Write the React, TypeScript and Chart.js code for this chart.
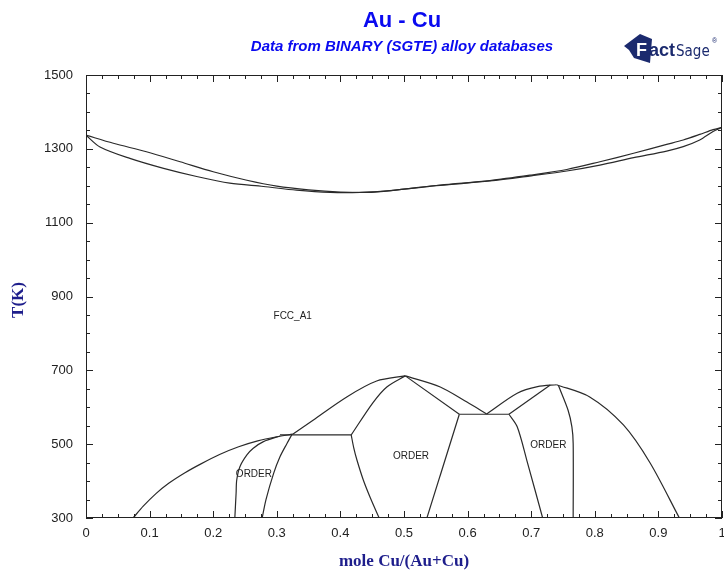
import React, { useEffect, useRef } from 'react';
import { Chart, registerables } from 'chart.js';

Chart.register(...registerables);

// ---- axis ticks ----
const xTickValues = [0, 0.1, 0.2, 0.3, 0.4, 0.5, 0.6, 0.7, 0.8, 0.9, 1];
const xTickLabels = ['0', '0.1', '0.2', '0.3', '0.4', '0.5', '0.6', '0.7', '0.8', '0.9', '1'];
const yTickValues = [300, 500, 700, 900, 1100, 1300, 1500];
const yTickLabels = ['300', '500', '700', '900', '1100', '1300', '1500'];
const xMinorStep = 0.025;
const yMinorStep = 50;

// ---- liquidus / solidus ----
const liquidusX = [0, 0.043, 0.095, 0.148, 0.2, 0.253, 0.3, 0.35, 0.4, 0.44, 0.48, 0.557, 0.635, 0.7, 0.756, 0.808, 0.861, 0.913, 0.939, 0.965, 0.986, 1];
const liquidusT = [1337, 1315, 1292, 1265, 1238, 1215, 1199, 1189, 1183, 1182, 1187, 1202, 1214, 1229, 1244, 1265, 1288, 1312, 1324, 1339, 1352, 1358];
const solidusX = [0, 0.022, 0.069, 0.122, 0.174, 0.226, 0.279, 0.331, 0.384, 0.431, 0.478, 0.557, 0.635, 0.7, 0.756, 0.808, 0.861, 0.913, 0.939, 0.965, 0.986, 1];
const solidusT = [1337, 1305, 1274, 1247, 1225, 1207, 1198, 1188, 1182, 1182, 1187, 1201, 1213, 1227, 1240, 1256, 1276, 1294, 1306, 1324, 1347, 1358];

// ---- order/disorder envelope ----
const dome1X = [0.074, 0.09, 0.11, 0.13, 0.155, 0.18, 0.21, 0.24, 0.27, 0.3, 0.325];
const dome1T = [300, 332, 366, 394, 422, 446, 472, 493, 509, 520, 527];
const arc1X = [0.325, 0.357, 0.41, 0.457, 0.502];
const arc1T = [527, 565, 628, 671, 685];
const arc2X = [0.502, 0.557, 0.599, 0.63];
const arc2T = [685, 655, 614, 582];
const arc3X = [0.63, 0.678, 0.71, 0.74];
const arc3T = [582, 638, 656, 661];
const arc4X = [0.74, 0.792, 0.845, 0.887, 0.933];
const arc4T = [661, 628, 552, 449, 300];

// ---- inner phase boundaries ----
const line2X = [0.234, 0.236, 0.237, 0.242, 0.253, 0.263, 0.279, 0.305];
const line2T = [300, 367, 403, 439, 471, 489, 507, 522];
const line3X = [0.277, 0.283, 0.295, 0.305, 0.316, 0.324];
const line3T = [300, 350, 421, 466, 502, 527];
const plateau1X = [0.305, 0.417];
const plateau1T = [525, 525];
const line5X = [0.417, 0.421, 0.426, 0.436, 0.447, 0.461];
const line5T = [525, 490, 457, 403, 355, 300];
const line6X = [0.417, 0.451, 0.473, 0.502];
const line6T = [525, 612, 655, 685];
const line7X = [0.502, 0.587];
const line7T = [685, 581];
const plateau2X = [0.587, 0.665];
const plateau2T = [581, 581];
const line8X = [0.587, 0.536];
const line8T = [581, 300];
const line9X = [0.665, 0.678, 0.693, 0.718];
const line9T = [581, 547, 457, 300];
const line10X = [0.665, 0.73];
const line10T = [581, 660];
const line11X = [0.743, 0.758, 0.764, 0.766, 0.766];
const line11T = [658, 592, 547, 502, 300];

// ---- region labels ----
const regionLabels = ['FCC_A1', 'ORDER', 'ORDER', 'ORDER'];
const regionX = [0.325, 0.264, 0.511, 0.727];
const regionT = [847, 419, 466, 498];

const curves: [number[], number[], number][] = [
  [liquidusX, liquidusT, 0.3],
  [solidusX, solidusT, 0.3],
  [dome1X, dome1T, 0.3],
  [arc1X, arc1T, 0.3],
  [arc2X, arc2T, 0.3],
  [arc3X, arc3T, 0.3],
  [arc4X, arc4T, 0.3],
  [line2X, line2T, 0.3],
  [line3X, line3T, 0.3],
  [plateau1X, plateau1T, 0],
  [line5X, line5T, 0.3],
  [line6X, line6T, 0.3],
  [line7X, line7T, 0],
  [plateau2X, plateau2T, 0],
  [line8X, line8T, 0],
  [line9X, line9T, 0.3],
  [line10X, line10T, 0],
  [line11X, line11T, 0.3],
];

const SANS = 'Arial, "Liberation Sans", sans-serif';
const SERIF = '"Times New Roman", "Liberation Serif", serif';

const framePlugin = {
  id: 'frame',
  afterDatasetsDraw(chart: any) {
    const { ctx, chartArea, scales } = chart;
    const { left, right, top, bottom } = chartArea;
    const xs = scales.x;
    const ys = scales.y;
    ctx.save();
    ctx.strokeStyle = '#222';
    ctx.lineWidth = 1;
    ctx.strokeRect(Math.round(left) + 0.5, Math.round(top) + 0.5, Math.round(right - left) - 1, Math.round(bottom - top) - 1);
    ctx.beginPath();
    const isMajorX = (v: number) => xTickValues.some((t) => Math.abs(t - v) < 1e-6);
    const isMajorY = (v: number) => yTickValues.some((t) => Math.abs(t - v) < 1e-6);
    for (let v = 0; v <= 1 + 1e-9; v += xMinorStep) {
      const px = Math.round(xs.getPixelForValue(v)) + 0.5;
      const len = isMajorX(v) ? 7 : 4;
      ctx.moveTo(px, bottom);
      ctx.lineTo(px, bottom - len);
      ctx.moveTo(px, top);
      ctx.lineTo(px, top + len);
    }
    for (let v = 300; v <= 1500 + 1e-9; v += yMinorStep) {
      const py = Math.round(ys.getPixelForValue(v)) + 0.5;
      const len = isMajorY(v) ? 7 : 4;
      ctx.moveTo(left, py);
      ctx.lineTo(left + len, py);
      ctx.moveTo(right, py);
      ctx.lineTo(right - len, py);
    }
    ctx.stroke();
    ctx.restore();
  },
  afterDraw(chart: any) {
    const { ctx, scales } = chart;
    ctx.save();
    // Title
    ctx.fillStyle = '#0a0af0';
    ctx.textAlign = 'center';
    ctx.textBaseline = 'middle';
    ctx.font = `bold 22px ${SANS}`;
    ctx.fillText('Au - Cu', 402, 21);
    ctx.font = `italic bold 15px ${SANS}`;
    ctx.fillText('Data from BINARY (SGTE) alloy databases', 402, 47);

    // Axis titles
    ctx.fillStyle = '#1e1e8c';
    ctx.font = `bold 17px ${SERIF}`;
    ctx.fillText('mole Cu/(Au+Cu)', 404, 562);
    ctx.save();
    ctx.translate(19, 300);
    ctx.rotate(-Math.PI / 2);
    ctx.fillText('T(K)', 0, 0);
    ctx.restore();

    // Region labels
    ctx.fillStyle = '#222';
    ctx.font = `10px ${SANS}`;
    regionLabels.forEach((lab, i) => {
      ctx.fillText(lab, scales.x.getPixelForValue(regionX[i]), scales.y.getPixelForValue(regionT[i]));
    });

    // FactSage logo
    const navy = '#1b2a6e';
    ctx.fillStyle = navy;
    ctx.beginPath();
    ctx.moveTo(624, 46);
    ctx.lineTo(640, 34);
    ctx.lineTo(652, 39);
    ctx.lineTo(650, 63);
    ctx.lineTo(634, 58);
    ctx.lineTo(629, 50);
    ctx.closePath();
    ctx.fill();
    ctx.fillStyle = '#ffffff';
    ctx.textAlign = 'left';
    ctx.textBaseline = 'alphabetic';
    ctx.font = `bold 18px ${SANS}`;
    ctx.fillText('F', 636, 56);
    ctx.fillStyle = navy;
    ctx.fillText('act', 649, 56);
    ctx.font = `15px "DejaVu Sans Condensed", ${SANS}`;
    ctx.fillText('Sage', 676, 56);
    ctx.font = `7px ${SANS}`;
    ctx.fillText('®', 712, 43);
    ctx.restore();
  },
};

export default function App() {
  const canvasRef = useRef<HTMLCanvasElement | null>(null);

  useEffect(() => {
    const canvas = canvasRef.current;
    if (!canvas) return;
    const datasets = curves.map(([xs, ts, tension]) => ({
      data: xs.map((x, i) => ({ x, y: ts[i] })),
      showLine: true,
      borderColor: '#2a2a2a',
      borderWidth: 1.2,
      pointRadius: 0,
      tension,
      fill: false,
    }));

    const chart = new Chart(canvas, {
      type: 'scatter',
      data: { datasets },
      plugins: [framePlugin],
      options: {
        animation: false,
        responsive: false,
        events: [],
        layout: { padding: { top: 75, right: 2, bottom: 0, left: 0 } },
        plugins: {
          legend: { display: false },
          tooltip: { enabled: false },
          title: { display: false },
        },
        scales: {
          x: {
            type: 'linear',
            min: 0,
            max: 1,
            grid: { display: false, drawTicks: false },
            border: { display: false },
            afterBuildTicks: (s: any) => {
              s.ticks = xTickValues.map((v) => ({ value: v }));
            },
            afterFit: (s: any) => {
              s.height = 57;
              s.paddingLeft = 0;
              s.paddingRight = 0;
            },
            ticks: {
              padding: 8,
              color: '#222',
              font: { family: SANS, size: 13 },
              maxRotation: 0,
              autoSkip: false,
              callback: (_v: any, i: number) => xTickLabels[i],
            },
          },
          y: {
            type: 'linear',
            min: 300,
            max: 1500,
            grid: { display: false, drawTicks: false },
            border: { display: false },
            afterBuildTicks: (s: any) => {
              s.ticks = yTickValues.map((v) => ({ value: v }));
            },
            afterFit: (s: any) => {
              s.width = 86;
              s.paddingTop = 0;
              s.paddingBottom = 0;
            },
            ticks: {
              padding: 13,
              color: '#222',
              font: { family: SANS, size: 13 },
              autoSkip: false,
              callback: (_v: any, i: number) => yTickLabels[i],
            },
          },
        },
      } as any,
    });
    return () => chart.destroy();
  }, []);

  return (
    <div style={{ position: 'fixed', left: 0, top: 0, width: 724, height: 575, background: '#fff' }}>
      <canvas ref={canvasRef} width={724} height={575} style={{ display: 'block' }} />
    </div>
  );
}
